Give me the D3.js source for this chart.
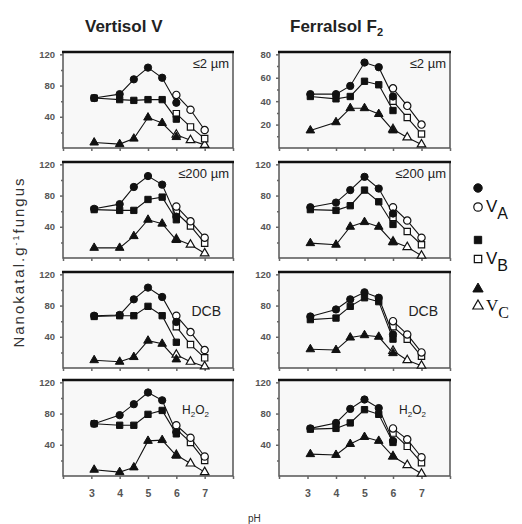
<!DOCTYPE html>
<meta charset="utf-8">
<style>
body { margin: 0; background-color: #fff; }
svg text { font-family: "Liberation Sans", Arial, sans-serif; }
.axis text { font-size: 9.5px; font-weight: bold; fill: #555; }
.axis line { stroke: #666; stroke-width: 1.5px; }
.axis path { display: none; }
.frame { fill: #f8f8f8; stroke: #555; stroke-width: 1.5px; }
.frame-top { stroke: #111; stroke-width: 2.5px; }
.line { fill: none; stroke: #111; stroke-width: 1.1px; }
.full { fill: #111; stroke: #111; stroke-width: 1px; }
.open { fill: #fff; stroke: #111; stroke-width: 1.2px; }
.title { font-size: 17px; font-weight: bold; fill: #222; }
.plab { font-size: 13px; fill: #222; }
</style>
<body>
<svg width="522" height="524"></svg>
<script src="https://cdnjs.cloudflare.com/ajax/libs/d3/7.8.5/d3.min.js"></script>
<script>
// pH of the citrate (filled) and phosphate (open) points
var phFilled = [3.1, 4, 4.5, 5, 5.5, 6];
var phOpen = [6, 6.5, 7];
var xTicks = [3, 4, 5, 6, 7];
var fractions = ["≤2 µm", "≤200 µm", "DCB", "H2O2"];

// Vertisol V : one row per fraction
var vertA     = [[64, 69, 88, 103, 90, 58], [63, 69, 91, 105, 94, 53], [67, 68, 88, 103, 91, 59], [67, 78, 92, 107, 97, 56]];
var vertAopen = [[68, 49, 23], [66, 47, 26], [67, 46, 23], [65, 49, 25]];
var vertB     = [[64, 62, 61, 62, 62, 37], [62, 61, 61, 75, 78, 49], [66, 67, 67, 79, 67, 33], [67, 65, 65, 79, 84, 54]];
var vertBopen = [[44, 27, 12], [58, 41, 19], [53, 30, 13], [60, 43, 20]];
var vertC     = [[7, 5, 12, 39, 32, 14], [13, 13, 28, 49, 44, 23], [10, 8, 14, 35, 31, 11], [8, 5, 11, 45, 46, 26]];
var vertCopen = [[17, 10, 4], [24, 17, 6], [17, 8, 2], [27, 16, 5]];

// Ferralsol F2
var ferrA     = [[46, 46, 53, 73, 69, 44], [65, 71, 87, 104, 89, 57], [66, 75, 88, 97, 90, 43], [61, 68, 86, 98, 87, 45]];
var ferrAopen = [[51, 36, 20], [65, 48, 26], [60, 43, 20], [61, 47, 24]];
var ferrB     = [[44, 42, 44, 57, 54, 32], [62, 61, 67, 87, 72, 43], [62, 64, 79, 90, 85, 37], [60, 61, 68, 85, 79, 43]];
var ferrBopen = [[40, 26, 12], [52, 34, 17], [53, 37, 15], [55, 38, 17]];
var ferrC     = [[15, 22, 34, 34, 29, 15], [19, 17, 40, 46, 40, 20], [24, 23, 39, 42, 40, 19], [28, 27, 41, 50, 45, 25]];
var ferrCopen = [[16, 9, 3], [21, 14, 3], [22, 10, 3], [25, 14, 3]];

var svg = d3.select("svg");

var soils = [
  {title: "Vertisol V", sub: "", tx: 85, range: [63, 233], A: vertA, Ao: vertAopen, B: vertB, Bo: vertBopen, C: vertC, Co: vertCopen},
  {title: "Ferralsol F", sub: "2", tx: 290, range: [279, 450], A: ferrA, Ao: ferrAopen, B: ferrB, Bo: ferrBopen, C: ferrC, Co: ferrCopen}
];
var rowTop = [52, 162, 272, 380],
    panelH = 96;

var shapes = {A: d3.symbolCircle, B: d3.symbolSquare, C: d3.symbolTriangle};
var sizes = {A: 42, B: 40, C: 32};

var line = d3.line();

soils.forEach(function(s, c) {
  var x = d3.scaleLinear().domain([2, 8]).range(s.range);

  var t = svg.append("text").attr("class", "title")
      .attr("x", s.tx).attr("y", 32).text(s.title);
  if (s.sub) t.append("tspan").attr("dy", 4).style("font-size", "11px").text(s.sub);

  fractions.forEach(function(f, r) {
    var top = rowTop[r], bottom = top + panelH;
    var small = (c == 1 && r == 0);
    var y = d3.scaleLinear().domain([0, small ? 82 : 123]).range([bottom, top]);

    var g = svg.append("g");
    g.append("rect").attr("class", "frame")
      .attr("x", x(2)).attr("y", top)
      .attr("width", x(8) - x(2)).attr("height", panelH);
    g.append("line").attr("class", "frame-top")
      .attr("x1", x(2) - 1).attr("x2", x(8) + 1).attr("y1", top).attr("y2", top);

    // y axis, major + minor
    g.append("g").attr("class", "axis")
      .attr("transform", "translate(" + x(2) + ",0)")
      .call(d3.axisLeft(y).tickValues(small ? [20, 40, 60, 80] : [40, 80, 120]).tickSize(3).tickPadding(5));
    g.append("g").attr("class", "axis")
      .attr("transform", "translate(" + x(2) + ",0)")
      .call(d3.axisLeft(y).tickValues(small ? [10, 30, 50, 70] : [20, 60, 100]).tickSize(2).tickFormat(""));

    // x axis
    var xa = d3.axisBottom(x).tickValues([2, 3, 4, 5, 6, 7, 8]).tickSize(3).tickPadding(11)
      .tickFormat(function(d) { return (r == 3 && xTicks.indexOf(d) >= 0) ? d : ""; });
    g.append("g").attr("class", "axis")
      .attr("transform", "translate(0," + bottom + ")")
      .call(xa)
      .selectAll("text").style("font-size", "10.5px");

    // series
    ["C", "B", "A"].forEach(function(k) {
      var full = phFilled.map(function(p, i) { return [p, s[k][r][i]]; });
      var open = phOpen.map(function(p, i) { return [p, s[k + "o"][r][i]]; });
      [full, open].forEach(function(pts) {
        g.append("path").attr("class", "line")
          .attr("d", line(pts.map(function(d) { return [x(d[0]), y(d[1])]; })));
      });
      var sym = d3.symbol().type(shapes[k]).size(sizes[k]);
      g.selectAll(null).data(open).enter().append("path")
        .attr("class", "open").attr("d", sym)
        .attr("transform", function(d) { return "translate(" + x(d[0]) + "," + y(d[1]) + ")"; });
      g.selectAll(null).data(full).enter().append("path")
        .attr("class", "full").attr("d", sym)
        .attr("transform", function(d) { return "translate(" + x(d[0]) + "," + y(d[1]) + ")"; });
    });

    // fraction label
    var lab = g.append("text").attr("class", "plab")
      .attr("x", x(8) - 4).attr("y", top + 16)
      .attr("text-anchor", "end");
    if (f == "H2O2") {
      lab.attr("x", x(8) - 24).attr("y", top + 34).style("font-size", "12px");
      lab.append("tspan").text("H");
      lab.append("tspan").attr("dy", 3).style("font-size", "8px").text("2");
      lab.append("tspan").attr("dy", -3).text("O");
      lab.append("tspan").attr("dy", 3).style("font-size", "8px").text("2");
    } else if (f == "DCB") {
      lab.attr("x", x(8) - 12).attr("y", top + 44).style("font-size", "14px").text(f);
    } else {
      lab.text(f);
    }
  });
});

// y label
svg.append("text")
  .attr("transform", "translate(24,262) rotate(-90)")
  .attr("text-anchor", "middle")
  .style("font-size", "15px").style("letter-spacing", "2px").style("fill", "#333")
  .call(function(t) {
    t.append("tspan").text("Nanokatal.g");
    t.append("tspan").attr("dy", -5).style("font-size", "9px").text("-1");
    t.append("tspan").attr("dy", 5).text("fungus");
  });

svg.append("text").attr("x", 248).attr("y", 522)
  .style("font-size", "10px").style("fill", "#333").text("pH");

// legend
var legend = [
  {k: "A", y1: 188, y2: 207, lab: "A", font: "Liberation Sans"},
  {k: "B", y1: 240, y2: 259, lab: "B", font: "Liberation Sans"},
  {k: "C", y1: 289, y2: 306, lab: "C", font: "Liberation Serif"}
];
legend.forEach(function(l) {
  var sym = d3.symbol().type(shapes[l.k]).size(sizes[l.k] + 14);
  svg.append("path").attr("class", "full").attr("d", sym)
    .attr("transform", "translate(478," + l.y1 + ")");
  svg.append("path").attr("class", "open").attr("d", sym)
    .attr("transform", "translate(478," + l.y2 + ")");
  var t = svg.append("text").attr("x", 486).attr("y", l.y2 + 5)
    .style("font-family", l.font).style("font-size", "17px").style("fill", "#111");
  t.append("tspan").text("V");
  t.append("tspan").attr("dy", 7).style("font-size", "16px").text(l.lab);
});
</script>
